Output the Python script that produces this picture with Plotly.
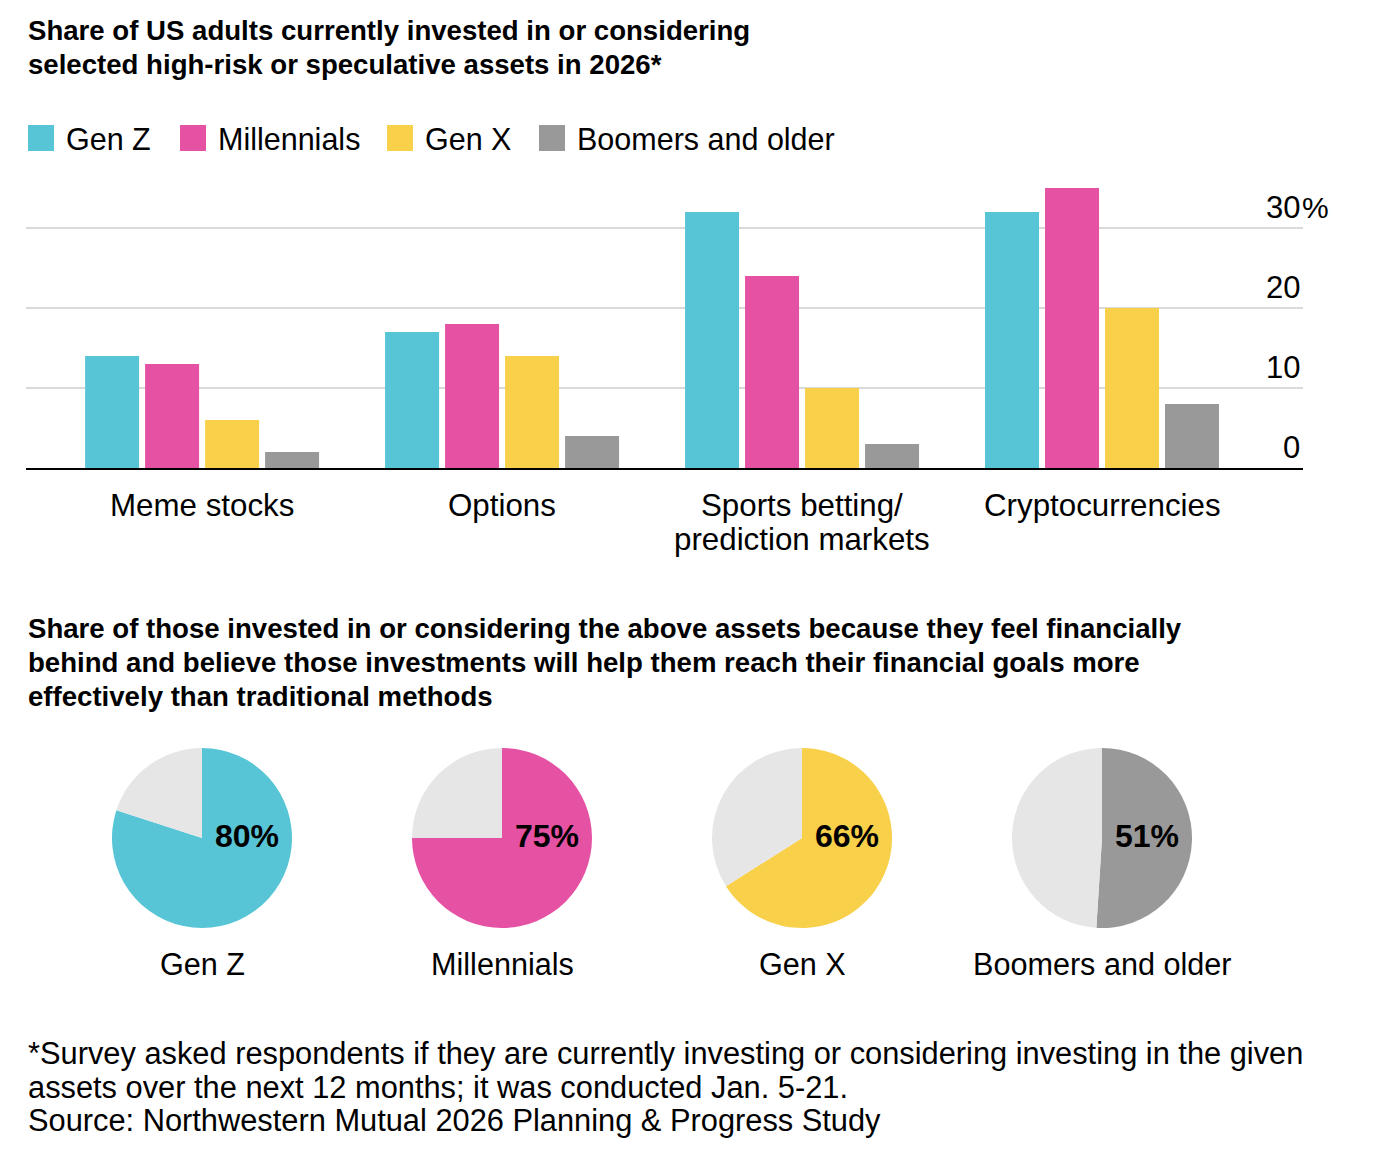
import plotly.graph_objects as go

# Bar chart data (share of US adults, %)
assets = ["Meme stocks", "Options", "Sports betting/<br>prediction markets", "Cryptocurrencies"]
generations = ["Gen Z", "Millennials", "Gen X", "Boomers and older"]
gen_z = [14, 17, 32, 32]
millennials = [13, 18, 24, 35]
gen_x = [6, 14, 10, 20]
boomers = [2, 4, 3, 8]
y_ticks = [0, 10, 20, 30]

# Pie data (% who feel financially behind)
pie_share = [80, 75, 66, 51]

colors = ["#58C5D6", "#E552A4", "#F8D049", "#999999"]
rest_color = "#E6E6E6"

W, H = 1374, 1168
FONT = "Liberation Sans"
OFF = 8  # page body margin


def px(x):
    return (x - OFF) / W


def py(y):
    return 1 - (y - OFF) / H


fig = go.Figure()

series = [gen_z, millennials, gen_x, boomers]
for name, vals, col in zip(generations, series, colors):
    fig.add_trace(go.Bar(x=assets, y=vals, name=name, marker_color=col,
                         marker_line_width=0, showlegend=False, xaxis="x", yaxis="y"))

# Pies, centred under each bar group
for i, (name, share, col) in enumerate(zip(generations, pie_share, colors)):
    cx = 202 + 300 * i
    fig.add_trace(go.Pie(
        values=[share, 100 - share],
        marker=dict(colors=[col, rest_color], line=dict(width=0)),
        sort=False, direction="clockwise", rotation=0,
        textinfo="none", hoverinfo="skip", showlegend=False,
        domain=dict(x=[px(cx - 90), px(cx + 90)], y=[py(928), py(748)]),
    ))

annotations = []

# Titles
title_lines = [
    (31, "Share of US adults currently invested in or considering"),
    (65, "selected high-risk or speculative assets in 2026*"),
    (628, "Share of those invested in or considering the above assets because they feel financially"),
    (662, "behind and believe those investments will help them reach their financial goals more"),
    (696, "effectively than traditional methods"),
]
for y, t in title_lines:
    annotations.append(dict(x=px(26), y=py(y), xref="paper", yref="paper", text="<b>%s</b>" % t,
                            xanchor="left", yanchor="middle", showarrow=False,
                            font=dict(size=27.6, color="black", family=FONT)))

# Footnote
foot_lines = [
    (1053, "*Survey asked respondents if they are currently investing or considering investing in the given"),
    (1087, "assets over the next 12 months; it was conducted Jan. 5-21."),
    (1120, "Source: Northwestern Mutual 2026 Planning &amp; Progress Study"),
]
for y, t in foot_lines:
    annotations.append(dict(x=px(26), y=py(y), xref="paper", yref="paper", text=t,
                            xanchor="left", yanchor="middle", showarrow=False,
                            font=dict(size=30.8, color="black", family=FONT)))

# Legend (drawn by hand so squares can be large)
shapes = []
legend_x = [28, 180, 387, 539]
for lx, name, col in zip(legend_x, generations, colors):
    shapes.append(dict(type="rect", xref="paper", yref="paper",
                       x0=px(lx), x1=px(lx + 26), y0=py(151), y1=py(125),
                       fillcolor=col, line=dict(width=0)))
    annotations.append(dict(x=px(lx + 36), y=py(139), xref="paper", yref="paper", text=name,
                            xanchor="left", yanchor="middle", showarrow=False,
                            font=dict(size=30.5, color="black", family=FONT)))

# Category labels under the bar groups
for cat in assets:
    for k, line in enumerate(cat.split("<br>")):
        annotations.append(dict(x=cat, y=py(505 + 34 * k), xref="x", yref="paper", text=line,
                                xanchor="center", yanchor="middle", showarrow=False,
                                font=dict(size=31.3, color="black", family=FONT)))

# Y tick labels on the right, sitting above the gridlines
for v in y_ticks:
    annotations.append(dict(x=px(1302), y=v, xref="paper", yref="y", text=str(v),
                            xanchor="right", yanchor="middle", yshift=21, showarrow=False,
                            font=dict(size=31, color="black", family=FONT)))
annotations.append(dict(x=px(1300), y=y_ticks[-1], xref="paper", yref="y", text="%",
                        xanchor="left", yanchor="middle", yshift=21, showarrow=False,
                        font=dict(size=30, color="black", family=FONT)))

# Pie value labels and names
for i, (name, share) in enumerate(zip(generations, pie_share)):
    cx = 202 + 300 * i
    annotations.append(dict(x=px(cx + 45), y=py(836), xref="paper", yref="paper",
                            text="<b>%d%%</b>" % share, xanchor="center", yanchor="middle",
                            showarrow=False, font=dict(size=32, color="black", family=FONT)))
    annotations.append(dict(x=px(cx), y=py(964), xref="paper", yref="paper", text=name,
                            xanchor="center", yanchor="middle", showarrow=False,
                            font=dict(size=30.6, color="black", family=FONT)))

fig.update_layout(
    width=W, height=H,
    margin=dict(l=0, r=0, t=0, b=0),
    paper_bgcolor="white", plot_bgcolor="white",
    barmode="group", bargap=0.2, bargroupgap=0.1,
    font=dict(family=FONT, size=30, color="black"),
    xaxis=dict(domain=[px(26), px(1303)], range=[-0.587, 3.67], type="category",
               showline=True, linecolor="black", linewidth=2, ticks="",
               showticklabels=False, showgrid=False),
    yaxis=dict(domain=[py(468), py(180)], range=[0, 36], tickvals=y_ticks,
               showticklabels=False, showgrid=True, gridcolor="#D9D9D9", gridwidth=1.5,
               zeroline=False, fixedrange=True),
    shapes=shapes,
    annotations=annotations,
)

fig.write_html("out.html")
